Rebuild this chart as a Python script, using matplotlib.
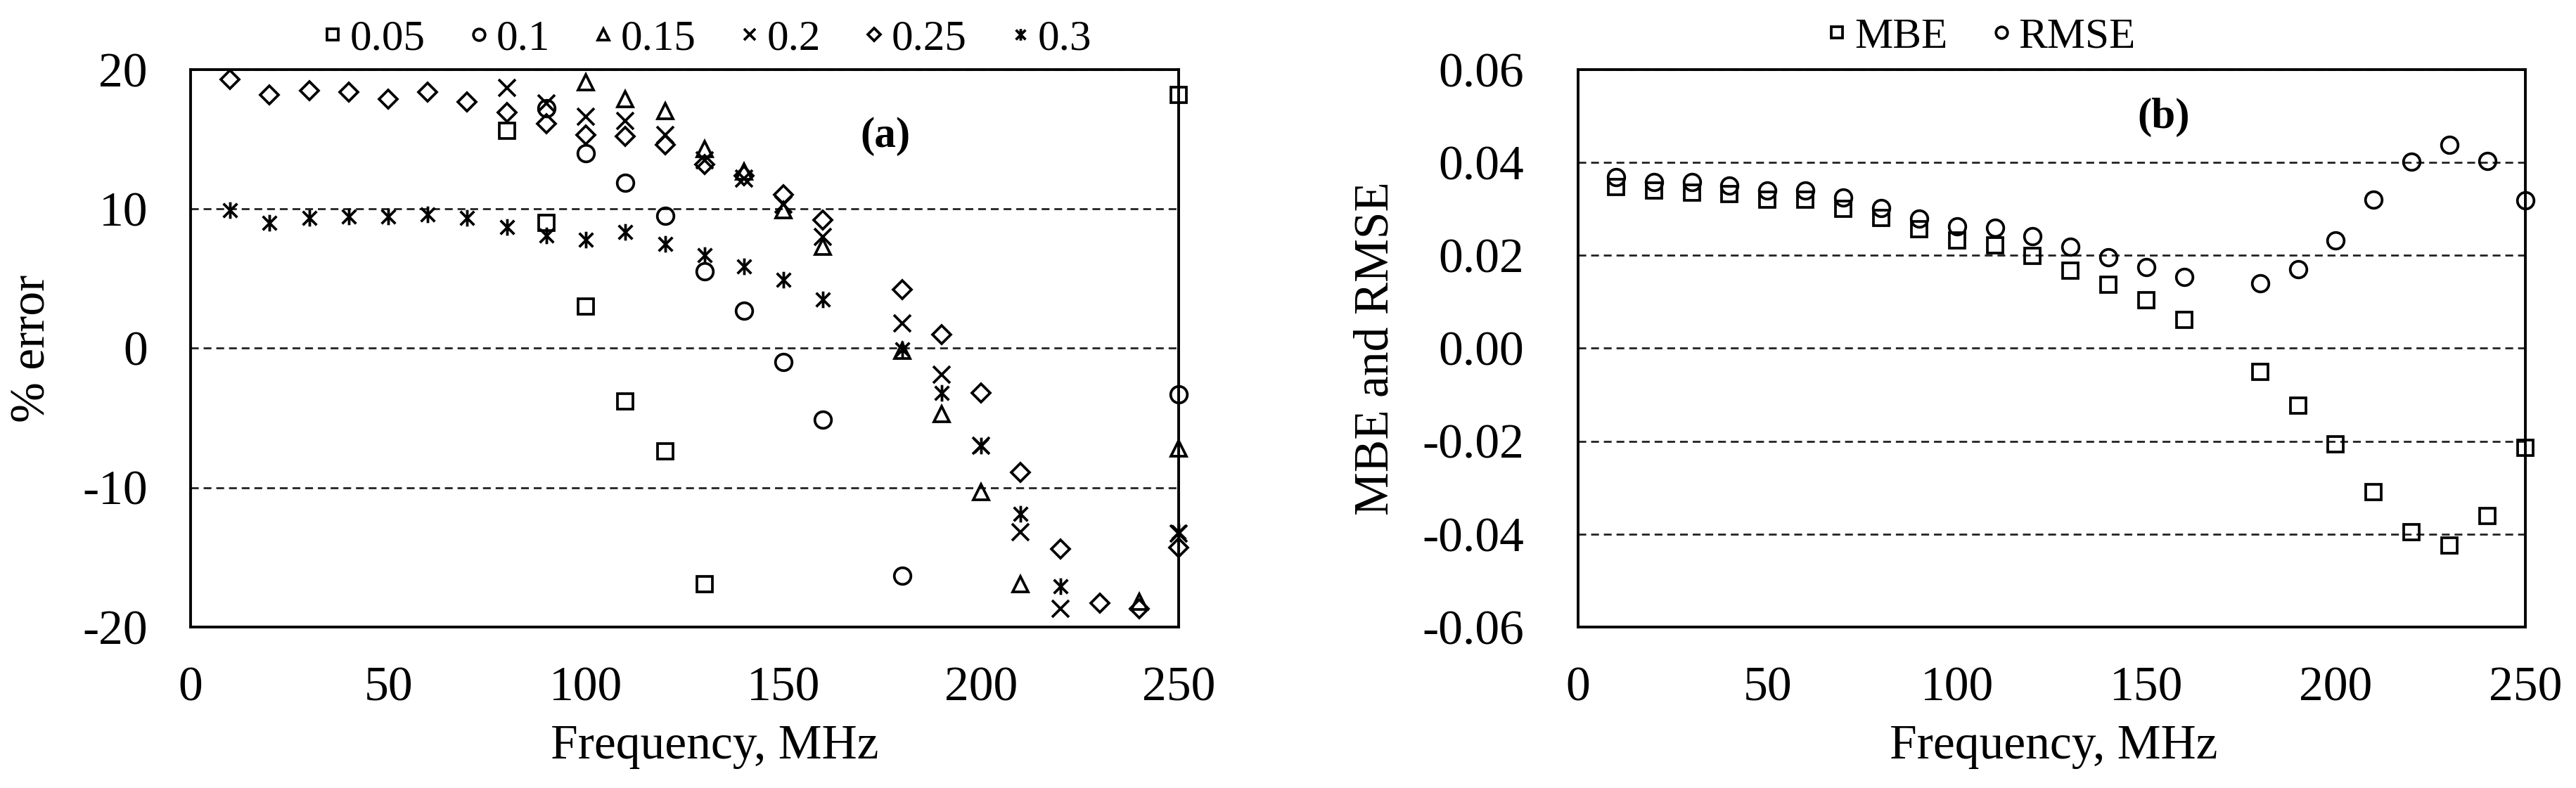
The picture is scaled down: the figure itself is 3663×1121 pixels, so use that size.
import numpy as np
import matplotlib
matplotlib.use("Agg")
import matplotlib.pyplot as plt
from matplotlib.path import Path

plt.rcParams['font.family'] = ['Liberation Serif', 'DejaVu Serif']
plt.rcParams['axes.unicode_minus'] = False

nan = np.nan
freq = [10, 20, 30, 40, 50, 60, 70, 80, 90, 100, 110, 120, 130, 140, 150, 160,
        180, 190, 200, 210, 220, 230, 240, 250]

err_005 = [nan, nan, nan, nan, nan, nan, nan, 15.6, 9.0, 3.0, -3.8, -7.4, -16.9,
           nan, nan, nan, nan, nan, nan, nan, nan, nan, nan, 18.2]
err_010 = [nan, nan, nan, nan, nan, nan, nan, nan, 17.2, 14.0, 11.9, 9.5, 5.5,
           2.7, -1.0, -5.1, -16.3, nan, nan, nan, nan, nan, nan, -3.3]
err_015 = [nan, nan, nan, nan, nan, nan, nan, nan, nan, 19.1, 17.9, 17.0, 14.3,
           12.7, 9.9, 7.3, -0.2, -4.7, -10.3, -16.9, nan, nan, -18.2, -7.2]
err_020 = [nan, nan, nan, nan, nan, nan, nan, 18.7, 17.6, 16.6, 16.3, 15.3, 13.5,
           12.2, 10.3, 8.0, 1.8, -1.9, -7.0, -13.2, -18.7, nan, nan, -13.3]
err_025 = [19.3, 18.2, 18.5, 18.4, 17.9, 18.4, 17.7, 16.9, 16.1, 15.3, 15.2, 14.6,
           13.2, 12.4, 11.0, 9.2, 4.2, 1.0, -3.2, -8.9, -14.4, -18.3, -18.7, -14.3]
err_030 = [9.9, 9.0, 9.35, 9.45, 9.45, 9.6, 9.35, 8.7, 8.1, 7.8, 8.35, 7.5, 6.7,
           5.9, 4.9, 3.5, -0.1, -3.2, -7.0, -11.9, -17.1, nan, nan, -13.2]

mbe = [0.0348, 0.0339, 0.0335, 0.0332, 0.0320, 0.0320, 0.0300, 0.0280, 0.0256,
       0.0233, 0.0221, 0.0199, 0.0167, 0.0137, 0.0103, 0.0062, -0.0051, -0.0123,
       -0.0206, -0.0310, -0.0395, -0.0424, -0.0361, -0.0214]
rmse = [0.0369, 0.0358, 0.0358, 0.0350, 0.0340, 0.0340, 0.0324, 0.0302, 0.0279,
        0.0263, 0.0259, 0.0241, 0.0218, 0.0196, 0.0174, 0.0153, 0.0140, 0.0170,
        0.0233, 0.0320, 0.0401, 0.0438, 0.0404, 0.0318]

series_a = [("0.05", err_005), ("0.1", err_010), ("0.15", err_015),
            ("0.2", err_020), ("0.25", err_025), ("0.3", err_030)]

star = Path([(-1, -1), (1, 1), (-1, 1), (1, -1), (0, -1.2), (0, 1.2)],
            [Path.MOVETO, Path.LINETO] * 3)
markers_a = ['s', 'o', '^', 'x', 'D', star]
sizes_a = [16, 17, 16, 17, 13, 17]

FS = 50
fig = plt.figure(figsize=(36.63, 11.21), dpi=100)
ax1 = fig.add_axes([0.074, 0.2043, 0.3836, 0.7074])
ax2 = fig.add_axes([0.6126, 0.2043, 0.3677, 0.7074])

mew = 2.7
handles = []
for (lab, vals), m, ms in zip(series_a, markers_a, sizes_a):
    h, = ax1.plot(freq, vals, linestyle='none', marker=m, markersize=ms,
                  markerfacecolor='none', markeredgecolor='black',
                  markeredgewidth=mew, clip_on=False, label=lab, zorder=3)
    handles.append(h)

ax2.plot(freq, mbe, linestyle='none', marker='s', markersize=16,
         markerfacecolor='none', markeredgecolor='black', markeredgewidth=mew,
         clip_on=False, label='MBE', zorder=3)
ax2.plot(freq, rmse, linestyle='none', marker='o', markersize=17,
         markerfacecolor='none', markeredgecolor='black', markeredgewidth=mew,
         clip_on=False, label='RMSE', zorder=3)

for ax in (ax1, ax2):
    ax.set_xlim(0, 250)
    ax.set_xticks([0, 50, 100, 150, 200, 250])
    ax.grid(axis='y', color='#222222', linewidth=2.0, linestyle=(0, (4, 2.5)))
    ax.set_axisbelow(True)
    for s in ax.spines.values():
        s.set_linewidth(2.8)
        s.set_color('black')
    ax.tick_params(length=0, labelsize=FS)
    ax.tick_params(axis='x', pad=40)
    ax.set_xlabel("Frequency, MHz", fontsize=FS)

ax1.set_ylim(-20, 20)
ax1.set_yticks([-20, -10, 0, 10, 20])
ax1.tick_params(axis='y', pad=44)
ax1.set_ylabel("% error", fontsize=FS)
ax1.yaxis.set_label_coords(-0.137, 0.5)
ax1.xaxis.set_label_coords(0.53, -0.175)
ax1.text(0.703, 0.88, "(a)", transform=ax1.transAxes, fontsize=44,
         fontweight='bold', ha='center', va='center')

ax2.set_ylim(-0.06, 0.06)
ax2.set_yticks([-0.06, -0.04, -0.02, 0.0, 0.02, 0.04, 0.06])
ax2.yaxis.set_major_formatter(matplotlib.ticker.FormatStrFormatter('%.2f'))
ax2.tick_params(axis='y', pad=55)
ax2.set_ylabel("MBE and RMSE", fontsize=FS)
ax2.yaxis.set_label_coords(-0.19, 0.5)
ax2.xaxis.set_label_coords(0.502, -0.175)
ax2.text(0.618, 0.914, "(b)", transform=ax2.transAxes, fontsize=44,
         fontweight='bold', ha='center', va='center')

leg_kw = dict(frameon=False, fontsize=44, handletextpad=0.05, columnspacing=0.9,
              markerscale=0.7, handlelength=0.7, borderaxespad=0)
ax1.legend(handles=handles, loc='center', bbox_to_anchor=(0.52, 1.055),
           ncol=6, **leg_kw)
ax2.legend(loc='center', bbox_to_anchor=(0.423, 1.058), ncol=2, **leg_kw)

fig.savefig("out.png", dpi=100)
